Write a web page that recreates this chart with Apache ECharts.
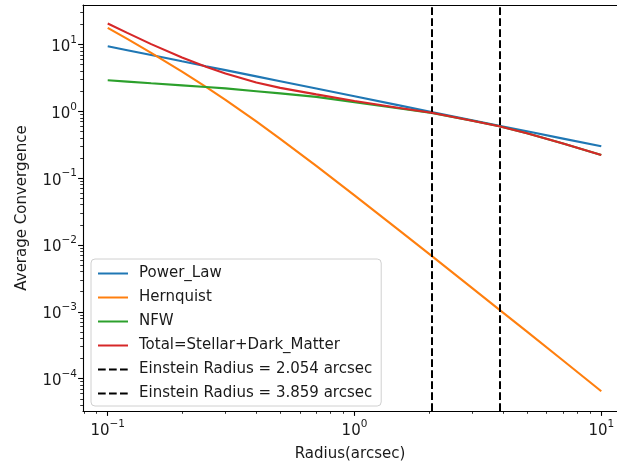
<!DOCTYPE html>
<html>
<head>
<meta charset="utf-8">
<script src="https://cdn.jsdelivr.net/npm/echarts@6/dist/echarts.min.js"></script>
<style>html,body{margin:0;padding:0;background:#fff;}#chart{width:617px;height:466px;}</style>
</head>
<body>
<div id="chart"></div>
<script>
// ---- data ----
const radii      = [0.1, 0.12, 0.15, 0.2, 0.25, 0.3, 0.4, 0.5, 0.7, 1, 1.5, 2.054, 3, 3.859, 5, 7, 10];
const powerLaw   = [9.4, 8.2, 6.94, 5.59, 4.73, 4.13, 3.33, 2.82, 2.19, 1.675, 1.237, 0.977, 0.736, 0.609, 0.502, 0.390, 0.299];
const hernquist  = [17.7, 12.1, 7.48, 3.92, 2.31, 1.48, 0.704, 0.387, 0.1525, 0.0551, 0.0171, 0.00686, 0.00226, 0.00108, 0.000504, 0.000187, 0.0000647];
const nfw        = [2.91, 2.78, 2.62, 2.44, 2.31, 2.2, 1.995, 1.85, 1.64, 1.37, 1.11, 0.943, 0.72, 0.595, 0.468, 0.329, 0.222];
const total      = [20.6, 14.9, 10.1, 6.36, 4.62, 3.68, 2.70, 2.24, 1.79, 1.425, 1.127, 0.95, 0.72, 0.596, 0.468, 0.329, 0.222];
const einsteinRadii = [2.054, 3.859];
const seriesNames = ['Power_Law', 'Hernquist', 'NFW', 'Total=Stellar+Dark_Matter'];
const xMajorTicks = [0.1, 1, 10];
const yMajorTicks = [1e-4, 1e-3, 1e-2, 1e-1, 1, 10];
const xLabel = 'Radius(arcsec)';
const yLabel = 'Average Convergence';

// ---- helpers ----
function powLabel(v){
  const e = Math.round(Math.log10(v));
  return '{b|10}{s|' + String(e).replace('-', '\u2212') + '}';
}
function minorTicks(lo, hi){
  const out = [];
  for (let d = -6; d <= 3; d++) {
    for (let m = 2; m <= 9; m++) {
      const v = m * Math.pow(10, d);
      if (v > lo && v < hi) out.push(v);
    }
  }
  return out;
}
// visible axis window (the right part of the original axes is cut off by the picture edge)
const xMin = 0.0794, xMax = 11.58;
const yMin = 3.28e-5, yMax = 38.9;
const colors = ['#1f77b4', '#ff7f0e', '#2ca02c', '#d62728'];
const font = 'DejaVu Sans';
const txt = '#1a1a1a';
const FS = 15;
const richSup = {
  b: {fontFamily: font, fontSize: FS, color: txt, lineHeight: 20, verticalAlign: 'bottom'},
  s: {fontFamily: font, fontSize: 10.5, color: txt, lineHeight: 12, verticalAlign: 'top'}
};

const chart = echarts.init(document.getElementById('chart'), null, {renderer: 'canvas'});

function zip(vals){ return radii.map((r, i) => [r, vals[i]]); }
const valueSets = [powerLaw, hernquist, nfw, total];

const series = valueSets.map((vals, i) => ({
  name: seriesNames[i],
  type: 'line',
  xAxisIndex: 0, yAxisIndex: 0,
  data: zip(vals),
  symbol: 'none',
  smooth: false,
  lineStyle: {color: colors[i], width: 2.1},
  itemStyle: {color: colors[i]},
  emphasis: {disabled: true},
  z: 2 + i
}));
einsteinRadii.forEach((er) => {
  series.push({
    name: 'Einstein Radius = ' + er.toFixed(3) + ' arcsec',
    type: 'line',
    xAxisIndex: 0, yAxisIndex: 0,
    data: [],
    symbol: 'none',
    lineStyle: {color: '#000', width: 2, type: [7.7, 3.3]},
    itemStyle: {color: '#000'},
    z: 10,
    markLine: {
      silent: true,
      symbol: ['none', 'none'],
      label: {show: false},
      lineStyle: {color: '#000', width: 2, type: [7.7, 3.3]},
      emphasis: {disabled: true},
      data: [{xAxis: er}]
    }
  });
});

const option = {
  animation: false,
  backgroundColor: '#fff',
  textStyle: {fontFamily: font},
  grid: {left: 83, top: 5, width: 534, height: 406, show: false,
         outerBoundsMode: 'none', containLabel: false},
  // the original right spine lies outside the picture: mask the clipped edge
  graphic: [{type: 'rect', right: 0, top: 6, z: 100, silent: true,
             shape: {width: 2, height: 404}, style: {fill: '#fff'}}],
  legend: {
    orient: 'vertical',
    left: 91, top: 259,
    padding: [7, 9, 5, 6],
    itemGap: 9,
    itemWidth: 30, itemHeight: 14,
    backgroundColor: 'rgba(255,255,255,0.8)',
    borderColor: '#d0d0d0', borderWidth: 1, borderRadius: 4,
    itemStyle: {opacity: 0},
    textStyle: {fontFamily: font, fontSize: FS, color: txt, padding: [0, 0, 0, 6]},
    data: series.map(s => s.name),
    selectedMode: false
  },
  xAxis: [
    {
      type: 'log', min: xMin, max: xMax, gridIndex: 0, position: 'bottom',
      name: xLabel, nameLocation: 'middle', nameGap: 36,
      nameTextStyle: {fontFamily: font, fontSize: FS, color: txt},
      axisLine: {show: true, lineStyle: {color: '#000', width: 1.1}},
      axisTick: {show: true, inside: false, length: 4.9, lineStyle: {color: '#000', width: 1.1}, customValues: xMajorTicks},
      axisLabel: {show: true, margin: 8, customValues: xMajorTicks, formatter: powLabel, rich: richSup, showMinLabel: true, showMaxLabel: true},
      splitLine: {show: false}, minorTick: {show: false}
    },
    {
      type: 'log', min: xMin, max: xMax, gridIndex: 0, position: 'bottom',
      axisLine: {show: false},
      axisTick: {show: true, inside: false, length: 2.8, lineStyle: {color: '#000', width: 0.8}, customValues: minorTicks(xMin, xMax)},
      axisLabel: {show: false},
      splitLine: {show: false}
    },
    {
      type: 'log', min: xMin, max: xMax, gridIndex: 0, position: 'top',
      axisLine: {show: true, onZero: false, lineStyle: {color: '#000', width: 1.1}},
      axisTick: {show: false},
      axisLabel: {show: false},
      splitLine: {show: false}
    }
  ],
  yAxis: [
    {
      type: 'log', min: yMin, max: yMax, gridIndex: 0, position: 'left',
      name: yLabel, nameLocation: 'middle', nameGap: 53, nameRotate: 90,
      nameTextStyle: {fontFamily: font, fontSize: FS, color: txt},
      axisLine: {show: true, lineStyle: {color: '#000', width: 1.1}},
      axisTick: {show: true, inside: false, length: 4.9, lineStyle: {color: '#000', width: 1.1}, customValues: yMajorTicks},
      axisLabel: {show: true, margin: 6, customValues: yMajorTicks, formatter: powLabel, rich: richSup},
      splitLine: {show: false}, minorTick: {show: false}
    },
    {
      type: 'log', min: yMin, max: yMax, gridIndex: 0, position: 'left',
      axisLine: {show: false},
      axisTick: {show: true, inside: false, length: 2.8, lineStyle: {color: '#000', width: 0.8}, customValues: minorTicks(yMin, yMax)},
      axisLabel: {show: false},
      splitLine: {show: false}
    }
  ],
  series: series
};
chart.setOption(option);
</script>
</body>
</html>
